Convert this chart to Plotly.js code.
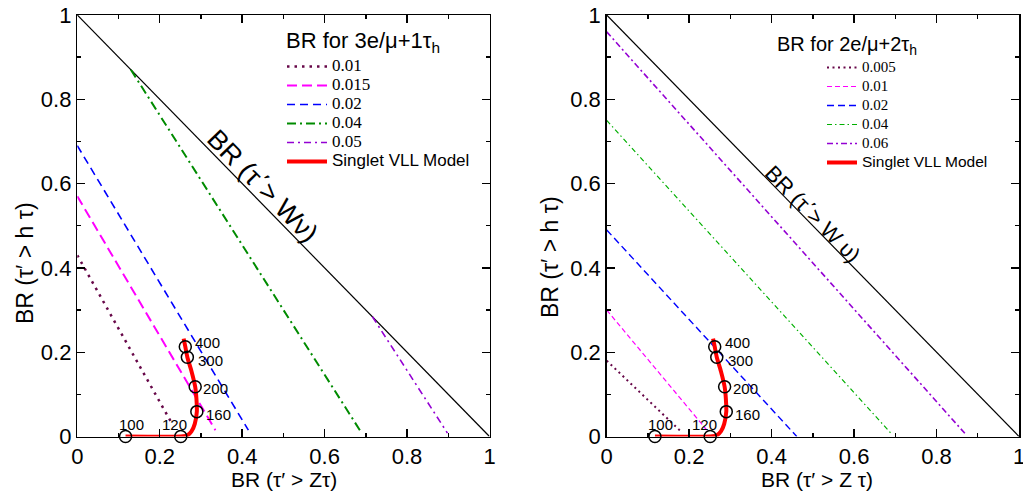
<!DOCTYPE html>
<html><head><meta charset="utf-8">
<script src="https://cdn.plot.ly/plotly-3.0.1.min.js"></script>
<style>html,body{margin:0;padding:0;background:#fff}</style>
</head><body><div id="chart" style="width:1023px;height:493px"></div>
<script>
// ---------------- data ----------------
const diagX = [0, 1];
const diagY = [1, 0];

// left panel: BR for 3e/mu + 1 tau_h
const leftLabels = ['0.01', '0.015', '0.02', '0.04', '0.05'];
const left001X = [0, 0.23],   left001Y = [0.43, 0.03];
const left0015X = [0, 0.335], left0015Y = [0.57, 0.015];
const left002X = [0, 0.415],  left002Y = [0.69, 0.015];
const left004X = [0.13, 0.69], left004Y = [0.87, 0.008];
const left005X = [0.716, 0.898], left005Y = [0.284, 0.008];

// right panel: BR for 2e/mu + 2 tau_h
const rightLabels = ['0.005', '0.01', '0.02', '0.04', '0.06'];
const right0005X = [0, 0.18],  right0005Y = [0.18, 0.012];
const right001X = [0, 0.243],  right001Y = [0.30, 0.015];
const right002X = [0, 0.461],  right002Y = [0.49, 0.0];
const right004X = [0, 0.691],  right004Y = [0.75, 0.006];
const right006X = [0, 0.87],   right006Y = [0.96, 0.006];

// singlet VLL model curve and mass points
const vllX = [0.117, 0.251, 0.266, 0.277, 0.285, 0.290, 0.289, 0.286, 0.277, 0.267, 0.262, 0.258];
const vllY = [0.0, 0.0, 0.002, 0.012, 0.03, 0.059, 0.09, 0.118, 0.155, 0.188, 0.213, 0.232];
const massLabels = ['100', '120', '160', '200', '300', '400'];
const massX = [0.117, 0.251, 0.290, 0.286, 0.267, 0.262];
const massY = [0.0, 0.0, 0.059, 0.118, 0.188, 0.213];

// label placement (style only): anchor and pixel offset from each mass point
const massAnchor = ['center', 'center', 'left', 'left', 'left', 'left'];
const massDx = [6, -6, 8, 7, 10, 9];
const massDy = [12, 12, -3, -2, -3, 4];

// ---------------- traces ----------------
const SANS = 'Liberation Sans, Arial, Helvetica, sans-serif';
const SERIF = 'Liberation Serif';
function lbl(t, size, serif) {
  return '<span style="font-size:' + size + 'px' + (serif ? ';font-family:' + SERIF : '') + '">' + t + '</span>';
}
function line(x, y, xa, ya, name, color, dash, width, legend) {
  return {x: x, y: y, xaxis: xa, yaxis: ya, mode: 'lines', name: name, legend: legend,
    line: {color: color, dash: dash, width: width}, hoverinfo: 'skip'};
}

const maroon = 'rgb(103,7,72)', magenta = 'rgb(255,0,255)', blue = 'rgb(0,0,255)',
      green = 'rgb(0,139,0)', green2 = 'rgb(0,175,0)', violet = 'rgb(148,0,211)';

function massTrace(xa, ya) {
  return {x: massX, y: massY, xaxis: xa, yaxis: ya, mode: 'markers',
    marker: {symbol: 'circle-open', size: 12, color: '#000', line: {width: 1.5, color: '#000'}},
    showlegend: false, cliponaxis: false, hoverinfo: 'skip'};
}

const traces = [
  Object.assign(line(diagX, diagY, 'x', 'y', 'diag', '#000', 'solid', 1.2, 'legend'), {showlegend: false}),
  line(left001X, left001Y, 'x', 'y', lbl(leftLabels[0], 17, true), maroon, '2.5px,5px', 2.5, 'legend'),
  line(left0015X, left0015Y, 'x', 'y', lbl(leftLabels[1], 17, true), magenta, '10px,5px', 2, 'legend'),
  line(left002X, left002Y, 'x', 'y', lbl(leftLabels[2], 17, true), blue, '8px,5px', 1.6, 'legend'),
  line(left004X, left004Y, 'x', 'y', lbl(leftLabels[3], 17, true), green, '9px,4px,2px,4px', 2, 'legend'),
  line(left005X, left005Y, 'x', 'y', lbl(leftLabels[4], 17, true), violet, '7px,4px,2px,4px', 1.6, 'legend'),
  Object.assign(line(vllX, vllY, 'x', 'y', lbl('Singlet VLL Model', 17, false), 'rgb(255,0,0)', 'solid', 4, 'legend'),
    {line: {color: 'rgb(255,0,0)', width: 4, shape: 'spline', smoothing: 0.6}, cliponaxis: false}),
  massTrace('x', 'y'),

  Object.assign(line(diagX, diagY, 'x2', 'y2', 'diag', '#000', 'solid', 1.2, 'legend2'), {showlegend: false}),
  line(right0005X, right0005Y, 'x2', 'y2', lbl(rightLabels[0], 15, true), maroon, '2px,3.5px', 2, 'legend2'),
  line(right001X, right001Y, 'x2', 'y2', lbl(rightLabels[1], 15, true), magenta, '5px,3px', 1.2, 'legend2'),
  line(right002X, right002Y, 'x2', 'y2', lbl(rightLabels[2], 15, true), blue, '7px,4px', 1.4, 'legend2'),
  line(right004X, right004Y, 'x2', 'y2', lbl(rightLabels[3], 15, true), green2, '5px,3px,1.5px,3px', 1.2, 'legend2'),
  line(right006X, right006Y, 'x2', 'y2', lbl(rightLabels[4], 15, true), violet, '6px,3px,2px,3px', 1.6, 'legend2'),
  Object.assign(line(vllX, vllY, 'x2', 'y2', lbl('Singlet VLL Model', 15.5, false), 'rgb(255,0,0)', 'solid', 4, 'legend2'),
    {line: {color: 'rgb(255,0,0)', width: 4, shape: 'spline', smoothing: 0.6}, cliponaxis: false}),
  massTrace('x2', 'y2')
];

// ---------------- layout ----------------
function axis(domain, anchor) {
  return {domain: domain, anchor: anchor, range: [0, 1], tick0: 0, dtick: 0.2,
    ticks: 'inside', ticklen: 8, tickwidth: 1.4, tickcolor: '#000',
    showline: true, linewidth: 1.5, linecolor: '#000', mirror: 'ticks',
    showgrid: false, zeroline: false, fixedrange: true, ticklabeloverflow: 'allow',
    tickfont: {family: SANS, size: 22, color: '#000'},
    minor: {dtick: 0.1, ticks: 'inside', ticklen: 4, tickwidth: 1.4, tickcolor: '#000', showgrid: false}};
}
function massAnnotations(xa, ya) {
  return massLabels.map(function (t, i) {
    return {xref: xa, yref: ya, x: massX[i], y: massY[i], text: t, showarrow: false,
      xanchor: massAnchor[i], yanchor: 'middle', xshift: massDx[i], yshift: massDy[i], borderpad: 0,
      font: {family: SANS, size: 15, color: '#000'}};
  });
}
const W = 1023, H = 493;
const yDom = [1 - 436.5 / H, 1 - 15 / H];
const layout = {
  width: W, height: H, margin: {l: 0, r: 0, t: 0, b: 0},
  paper_bgcolor: '#fff', plot_bgcolor: '#fff', showlegend: true,
  font: {family: SANS, color: '#000'},
  xaxis: axis([77.3 / W, 489.5 / W], 'y'),
  yaxis: axis(yDom, 'x'),
  xaxis2: axis([606.7 / W, 1019 / W], 'y2'),
  yaxis2: axis(yDom, 'x2'),
  legend: {x: 282 / W, y: 1 - 52 / H, xanchor: 'left', yanchor: 'top', bgcolor: 'rgba(0,0,0,0)',
    borderwidth: 0, font: {family: SANS, size: 12, color: '#000'}, itemwidth: 40, tracegroupgap: 0},
  legend2: {x: 822 / W, y: 1 - 53 / H, xanchor: 'left', yanchor: 'top', bgcolor: 'rgba(0,0,0,0)',
    borderwidth: 0, font: {family: SANS, size: 12, color: '#000'}, itemwidth: 30, tracegroupgap: 0},
  annotations: [
    {xref: 'paper', yref: 'paper', x: 284 / W, y: 1 - 479 / H, text: 'BR (τ′ > Zτ)', showarrow: false,
      xanchor: 'center', yanchor: 'middle', font: {family: SANS, size: 21, color: '#000'}},
    {xref: 'paper', yref: 'paper', x: 817 / W, y: 1 - 479 / H, text: 'BR (τ′ > Z τ)', showarrow: false,
      xanchor: 'center', yanchor: 'middle', font: {family: SANS, size: 21, color: '#000'}},
    {xref: 'paper', yref: 'paper', x: 25 / W, y: 1 - 263 / H, text: 'BR (τ′ > h τ)', showarrow: false, textangle: -90,
      xanchor: 'center', yanchor: 'middle', font: {family: SANS, size: 23, color: '#000'}},
    {xref: 'paper', yref: 'paper', x: 550 / W, y: 1 - 257 / H, text: 'BR (τ′ > h τ)', showarrow: false, textangle: -90,
      xanchor: 'center', yanchor: 'middle', font: {family: SANS, size: 23, color: '#000'}},
    {xref: 'paper', yref: 'paper', x: 284 / W, y: 1 - 42 / H, text: 'BR for 3e/μ+1τ<sub>h</sub>', showarrow: false,
      xanchor: 'left', yanchor: 'middle', font: {family: SANS, size: 22, color: '#000'}},
    {xref: 'paper', yref: 'paper', x: 775 / W, y: 1 - 45 / H, text: 'BR for 2e/μ+2τ<sub>h</sub>', showarrow: false,
      xanchor: 'left', yanchor: 'middle', font: {family: SANS, size: 20, color: '#000'}},
    {xref: 'x', yref: 'y', x: 0.449, y: 0.594, text: 'BR (τ΄> Wν)', showarrow: false, textangle: 45.7,
      xanchor: 'center', yanchor: 'middle', font: {family: SANS, size: 27, color: '#000'}},
    {xref: 'x2', yref: 'y2', x: 0.498, y: 0.528, text: 'BR (τ΄> W υ)', showarrow: false, textangle: 45.6,
      xanchor: 'center', yanchor: 'middle', font: {family: SANS, size: 22, color: '#000'}}
  ].concat(massAnnotations('x', 'y'), massAnnotations('x2', 'y2'))
};
Plotly.newPlot('chart', traces, layout, {staticPlot: true, displayModeBar: false});
</script></body></html>
